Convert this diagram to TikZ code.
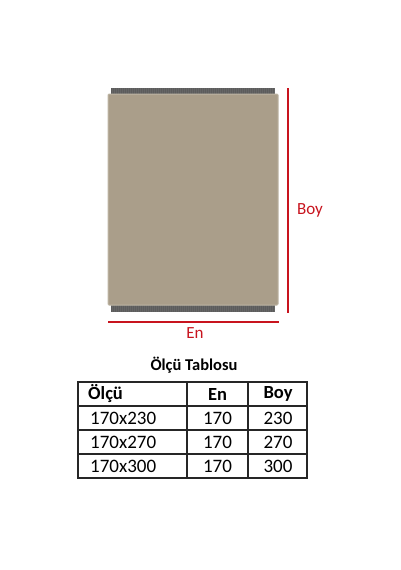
\documentclass[tikz,border=0pt]{standalone}
\usepackage{fontspec}
\setmainfont{Carlito}
\begin{document}
\begin{tikzpicture}[x=1pt,y=-1pt,
  rugred/.style={draw=dimred,line width=2pt},
  dimlabel/.style={text=dimred,font=\fontsize{17}{17}\selectfont},
  cell/.style={font=\fontsize{19}{19}\selectfont,inner sep=0pt},
  hcell/.style={font=\fontsize{18.5}{18.5}\selectfont\bfseries,inner sep=0pt},
  grid/.style={draw=black!85,line width=1.3pt}]
\definecolor{dimred}{RGB}{200,20,30}
\definecolor{rug}{RGB}{170,158,138}
\definecolor{rugedge}{RGB}{190,182,165}
\definecolor{fringe}{RGB}{92,92,92}
\useasboundingbox[fill=white] (0,0) rectangle (400,570);
% fringes
\fill[fringe] (111,88) rectangle (275,95);
\fill[fringe] (111,305) rectangle (275,312);
\foreach \i in {0,...,81}{
  \draw[black!60,line width=0.3pt] (112+2*\i,88) -- (112+2*\i,95);
  \draw[black!60,line width=0.3pt] (112+2*\i,305) -- (112+2*\i,312);
}
% rug body
\node[draw=rugedge,fill=rug,line width=1pt,rounded corners=1pt,minimum width=170pt,minimum height=211pt,inner sep=0pt] (rug) at (193,199.5) {};
% dimension lines
\coordinate (vt) at (287.5,88);
\coordinate (vb) at (287.5,313);
\coordinate (hl) at (108,322);
\coordinate (hr) at (279,322);
\draw[rugred] (vt) -- (vb);
\draw[rugred] (hl) -- (hr);
\node[dimlabel] (boy) at (310,210) {Boy};
\node[dimlabel] (en) at (195,333) {En};
% table title
\node[font=\fontsize{16.5}{16.5}\selectfont\bfseries] (title) at (194,365) {Ölçü Tablosu};
% table grid
\draw[grid] (78,382) rectangle (307,478);
\foreach \y in {406,430,454}{\draw[grid] (78,\y) -- (307,\y);}
\draw[grid] (187,382) -- (187,478);
\draw[grid] (248,382) -- (248,478);
% header
\node[hcell,anchor=west] (h1) at (88,394) {Ölçü};
\node[hcell] (h2) at (217.5,394) {En};
\node[hcell] (h3) at (278,394) {Boy};
% rows
\node[cell,anchor=west] (r1a) at (90,418) {170x230};
\node[cell] (r1b) at (217.5,418) {170};
\node[cell] (r1c) at (278,418) {230};
\node[cell,anchor=west] (r2a) at (90,442) {170x270};
\node[cell] (r2b) at (217.5,442) {170};
\node[cell] (r2c) at (278,442) {270};
\node[cell,anchor=west] (r3a) at (90,466) {170x300};
\node[cell] (r3b) at (217.5,466) {170};
\node[cell] (r3c) at (278,466) {300};
\end{tikzpicture}
\end{document}
